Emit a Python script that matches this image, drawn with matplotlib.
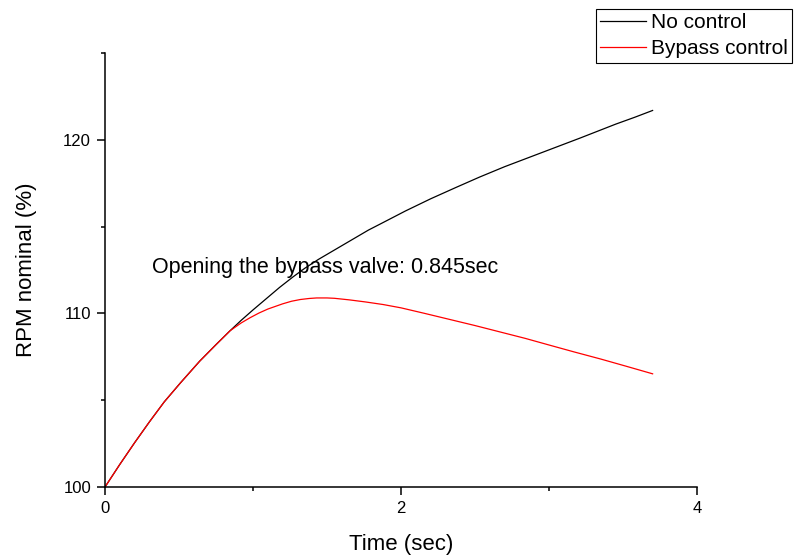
import matplotlib
matplotlib.use("Agg")
import matplotlib.pyplot as plt
from matplotlib.ticker import MultipleLocator

plt.rcParams['font.family'] = ['Liberation Sans', 'DejaVu Sans']

# Values
time_no_ctrl = [0, 0.1, 0.2, 0.3, 0.4, 0.51, 0.64, 0.75, 0.845, 0.92, 1.0, 1.09, 1.18, 1.27,
                1.35, 1.44, 1.52, 1.61, 1.7, 1.78, 1.86, 2.03, 2.2, 2.37, 2.53, 2.7, 2.87,
                3.04, 3.21, 3.33, 3.45, 3.58, 3.7]
rpm_no_ctrl = [100, 101.3, 102.55, 103.75, 104.9, 106.0, 107.25, 108.2, 109.0, 109.6, 110.2,
               110.85, 111.5, 112.1, 112.6, 113.1, 113.5, 113.95, 114.4, 114.8, 115.15,
               115.9, 116.6, 117.25, 117.85, 118.45, 119.0, 119.55, 120.1, 120.5, 120.9,
               121.3, 121.69]

time_bypass = [0, 0.1, 0.2, 0.3, 0.4, 0.51, 0.64, 0.75, 0.845, 0.92, 0.98, 1.04, 1.1, 1.2,
               1.26, 1.32, 1.38, 1.43, 1.5, 1.55, 1.65, 1.76, 1.88, 2.0, 2.16, 2.33, 2.5,
               2.67, 2.84, 3.0, 3.17, 3.35, 3.52, 3.7]
rpm_bypass = [100, 101.3, 102.55, 103.75, 104.9, 106.0, 107.25, 108.2, 109.0, 109.45, 109.75,
              110.02, 110.25, 110.55, 110.7, 110.8, 110.86, 110.89, 110.89, 110.87, 110.78,
              110.66, 110.51, 110.32, 110.0, 109.65, 109.3, 108.93, 108.56, 108.18, 107.78,
              107.37, 106.96, 106.52]

annotation = "Opening the bypass valve: 0.845sec"

fig = plt.figure(figsize=(7.95, 5.56), dpi=100)
ax = fig.add_axes([105 / 795, 69 / 556, 592 / 795, 434 / 556])

ax.plot(time_no_ctrl, rpm_no_ctrl, color='black', lw=0.9, label='No control')
ax.plot(time_bypass, rpm_bypass, color='red', lw=0.9, label='Bypass control')

ax.set_xlim(0, 4)
ax.set_ylim(100, 125)
ax.xaxis.set_major_locator(MultipleLocator(2))
ax.xaxis.set_minor_locator(MultipleLocator(1))
ax.yaxis.set_major_locator(MultipleLocator(10))
ax.yaxis.set_minor_locator(MultipleLocator(5))

for side in ['top', 'right']:
    ax.spines[side].set_visible(False)
for side in ['left', 'bottom']:
    ax.spines[side].set_linewidth(1.1)

ax.tick_params(which='major', direction='out', length=6, width=1.1, labelsize=12, pad=4)
ax.tick_params(which='minor', direction='out', length=3, width=1.1)

ax.set_xlabel('Time (sec)', fontsize=16, labelpad=13)
ax.set_ylabel('RPM nominal (%)', fontsize=16, labelpad=19)

ax.text(0.32, 112.66, annotation, fontsize=15.5, va='center', ha='left')

leg = fig.legend(loc='upper right', bbox_to_anchor=(792 / 795, 1 - 9 / 556),
                 fontsize=15, frameon=True, fancybox=False, edgecolor='black',
                 framealpha=1, borderpad=0.2, borderaxespad=0, handlelength=2.2,
                 handletextpad=0.25, labelspacing=0.35)
leg.get_frame().set_linewidth(0.8)

fig.savefig('out.png', dpi=100)
